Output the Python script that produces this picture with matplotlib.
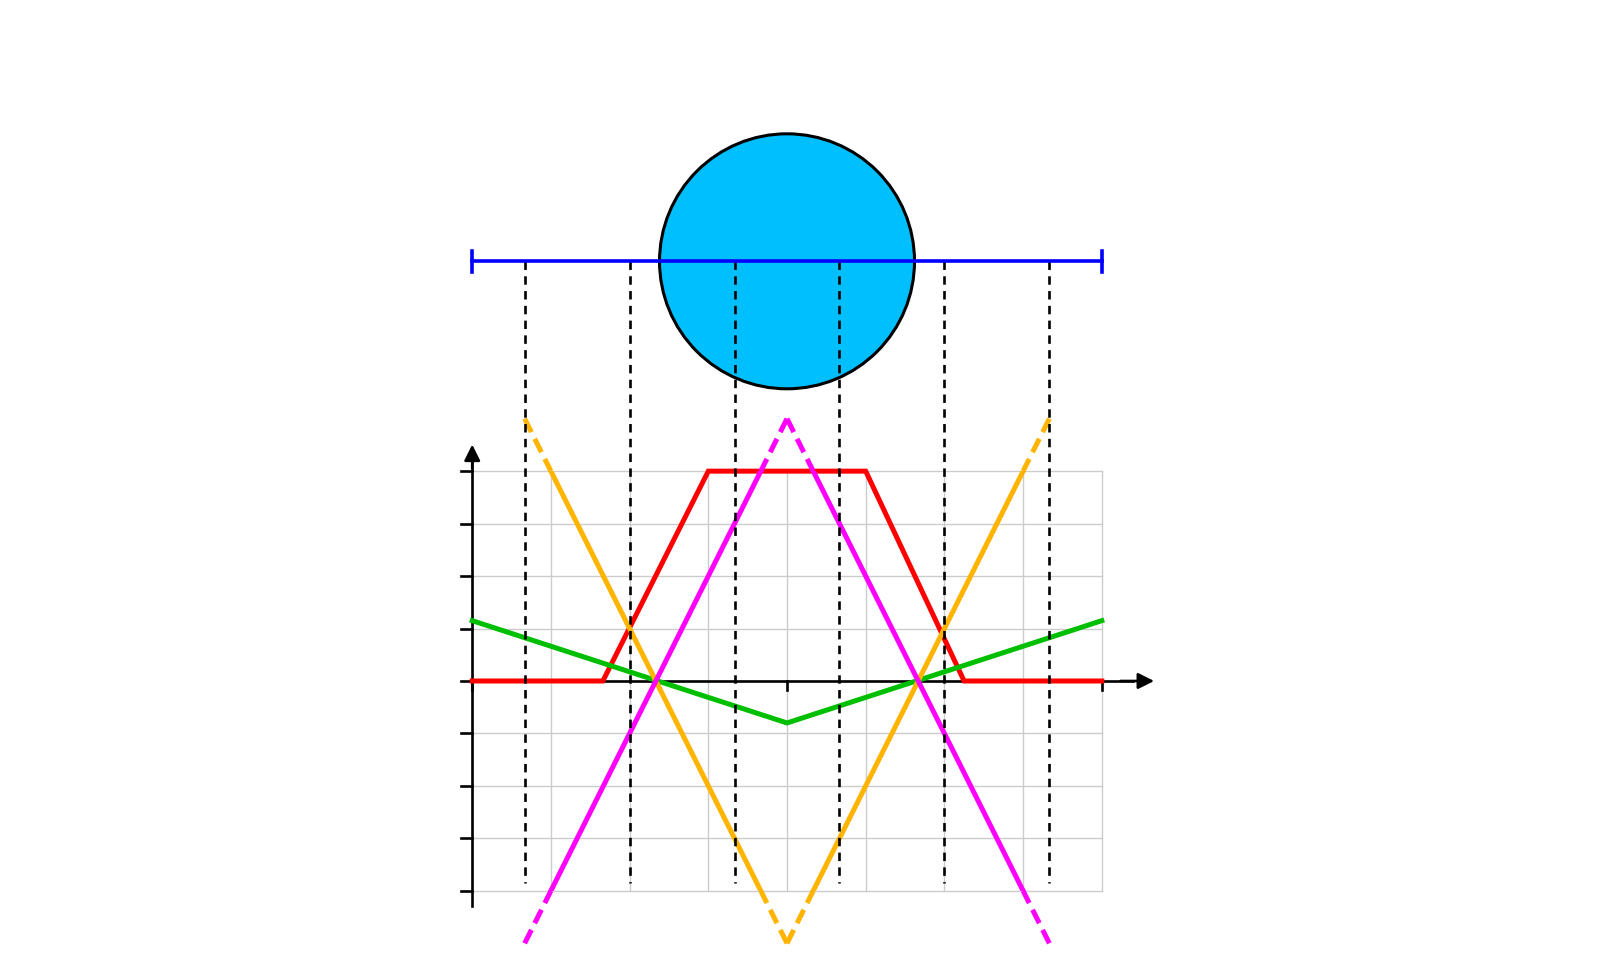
import matplotlib
matplotlib.use("Agg")
import matplotlib.pyplot as plt
import numpy as np
from matplotlib.patches import Ellipse, Rectangle

# data
grid_x = list(range(0, 9))
grid_y = list(range(-4, 5))
ytick_vals = list(range(-4, 5))
xtick_vals = [0, 4, 8]
probe_x = [2/3, 2, 10/3, 14/3, 6, 22/3]

red_x = [0, 1.66, 3, 5, 6.25, 8]
red_y = [0, 0, 4, 4, 0, 0]
green_x = [0, 4, 8]
green_y = [1.15, -0.8, 1.15]
magenta_x = [2/3, 4, 22/3]
magenta_y = [-5, 5, -5]
orange_x = [2/3, 4, 22/3]
orange_y = [5, -5, 5]

disk_center = (4, 8)
disk_r = 1.62
bar_x = [0, 8]
bar_y = [8, 8]

fig = plt.figure(figsize=(16, 9.7), dpi=100)
ax = fig.add_axes([0, 0, 1, 1])
ax.set_xlim(-6, 14.33)
ax.set_ylim(-5.49, 13)
ax.axis("off")

# pixel scale so the disk stays round
px_x = 1600 / (14.33 + 6)
px_y = 970 / (13 + 5.49)

ylo, yhi = grid_y[0], grid_y[-1]

# grid
for gx in grid_x:
    ax.plot([gx, gx], [ylo, yhi], color="#cccccc", lw=1.0, zorder=1)
for gy in grid_y:
    ax.plot([grid_x[0], grid_x[-1]], [gy, gy], color="#cccccc", lw=1.0, zorder=1)

# axes with arrows
ax.plot([0, 0], [-4.29, 4.3], color="black", lw=1.9, zorder=2)
ax.plot([0, 8.4], [0, 0], color="black", lw=1.9, zorder=2)
ax.annotate("", xy=(0, 4.56), xytext=(0, 4.0),
            arrowprops=dict(arrowstyle="-|>", color="black", lw=1.9, mutation_scale=24), zorder=2)
ax.annotate("", xy=(8.7, 0), xytext=(8.2, 0),
            arrowprops=dict(arrowstyle="-|>", color="black", lw=1.9, mutation_scale=24), zorder=2)
for t in ytick_vals:
    ax.plot([-0.14, 0], [t, t], color="black", lw=1.9, zorder=2)
for t in xtick_vals:
    ax.plot([t, t], [0, -0.17], color="black", lw=1.9, zorder=2)


def draw_split(xs, ys, color, z):
    # solid inside the grid band, dashed outside (dashes start at the outer vertex)
    clip = Rectangle((-10, ylo), 30, yhi - ylo, transform=ax.transData)
    ln, = ax.plot(xs, ys, color=color, lw=3.6, zorder=z)
    ln.set_clip_path(clip)
    for i in range(len(xs) - 1):
        for a, b in [(i, i + 1), (i + 1, i)]:
            x0, y0, x1, y1 = xs[a], ys[a], xs[b], ys[b]
            lim = yhi if y0 > yhi else (ylo if y0 < ylo else None)
            if lim is None:
                continue
            t = (lim - y0) / (y1 - y0)
            xc = x0 + t * (x1 - x0)
            ax.plot([x0, xc], [y0, lim], color=color, lw=3.6,
                    dashes=(3, 1.5), zorder=z)


ax.plot(red_x, red_y, color="#ff0000", lw=3.6, zorder=3, solid_joinstyle="miter")
ax.plot(green_x, green_y, color="#00bf00", lw=3.6, zorder=4)
draw_split(orange_x, orange_y, "#ffb400", 5)
draw_split(magenta_x, magenta_y, "#ff00ff", 6)

# disk and measuring bar
disk = Ellipse(disk_center, 2 * disk_r, 2 * disk_r * px_x / px_y,
               facecolor="#00bfff", edgecolor="black", lw=2.2, zorder=7)
ax.add_patch(disk)

# projection lines
for px in probe_x:
    ax.plot([px, px], [8, -3.85], color="black", lw=1.9, dashes=(3.2, 2.4), zorder=8)

ax.plot(bar_x, bar_y, color="#0000ff", lw=2.6, zorder=9)
for bx in bar_x:
    ax.plot([bx, bx], [8 - 0.2, 8 + 0.2], color="#0000ff", lw=2.6, zorder=9)

fig.savefig("out.png", dpi=100)
